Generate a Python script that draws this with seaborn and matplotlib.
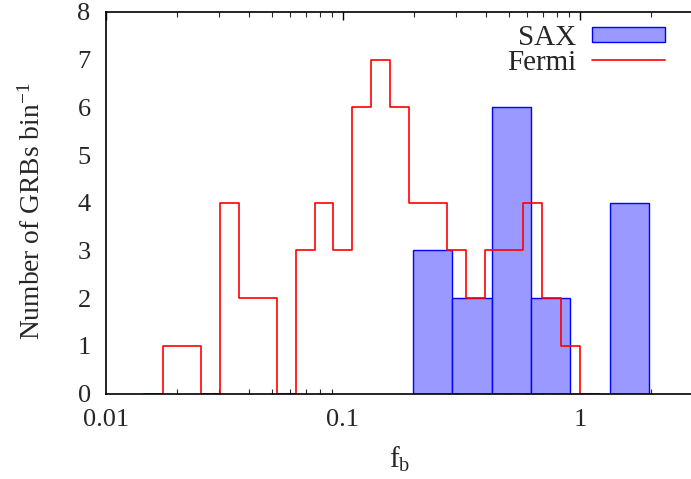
import numpy as np
import pandas as pd
import seaborn as sns
import matplotlib
matplotlib.use("Agg")
import matplotlib.pyplot as plt
from matplotlib.ticker import LogLocator, NullFormatter, FixedLocator, FixedFormatter

# ---- data ----
# Fermi: log10 bin edges, step 0.08 dex, from -1.84 to 0.08 (zero bins padded at ends)
fermi_log_edges = [-1.84, -1.76, -1.68, -1.60, -1.52, -1.44, -1.36, -1.28, -1.20, -1.12,
                   -1.04, -0.96, -0.88, -0.80, -0.72, -0.64, -0.56, -0.48, -0.40, -0.32,
                   -0.24, -0.16, -0.08, 0.00, 0.08]
fermi_counts = [0, 1, 1, 0, 4, 2, 2, 0, 3, 4, 3, 6, 7, 6, 4, 4, 3, 2, 3, 3, 4, 2, 1, 0]

# SAX: log10 bin edges, step ~0.166 dex
sax_log_edges = [-0.705, -0.539, -0.373, -0.207, -0.041, 0.125, 0.291]
sax_counts = [3, 2, 6, 2, 0, 4]

x_ticks = [0.01, 0.1, 1]
x_ticklabels = ["0.01", "0.1", "1"]
y_ticks = [0, 1, 2, 3, 4, 5, 6, 7, 8]

# ---- build tables ----
fe = np.array(fermi_log_edges)
fermi_df = pd.DataFrame({"fb": 10 ** ((fe[:-1] + fe[1:]) / 2), "n": fermi_counts})
se = np.array(sax_log_edges)
sax_df = pd.DataFrame({"fb": 10 ** ((se[:-1] + se[1:]) / 2), "n": sax_counts})

sns.set_style("white")
plt.rcParams["font.family"] = ["Liberation Serif", "DejaVu Serif"]
plt.rcParams["mathtext.fontset"] = "custom"
plt.rcParams["mathtext.rm"] = "Liberation Serif"
plt.rcParams["mathtext.it"] = "Liberation Serif"

fig = plt.figure(figsize=(6.91, 4.79), dpi=100)
L, R, T, B = 106, 693, 12, 393.5
ax = fig.add_axes([L / 691, (479 - B) / 479, (R - L) / 691, (B - T) / 479])

sns.histplot(data=sax_df, x="fb", weights="n", bins=sax_log_edges, log_scale=True,
             element="bars", fill=True, color="#9999ff", edgecolor="#0000ff",
             linewidth=1.0, alpha=1.0, ax=ax, label="SAX")
sns.histplot(data=fermi_df, x="fb", weights="n", bins=fermi_log_edges, log_scale=True,
             element="step", fill=False, color="#ff0000", linewidth=1.2,
             ax=ax, label="Fermi")

ax.set_xlim(0.01, 3)
ax.set_ylim(0, 8)
ax.xaxis.set_major_locator(FixedLocator(x_ticks))
ax.xaxis.set_major_formatter(FixedFormatter(x_ticklabels))
ax.xaxis.set_minor_locator(LogLocator(base=10, subs=np.arange(2, 10)))
ax.xaxis.set_minor_formatter(NullFormatter())
ax.set_yticks(y_ticks)
ax.set_yticklabels([str(v) for v in y_ticks])

ax.tick_params(axis="both", which="major", direction="in", length=6, width=1,
               labelsize=19, top=True, right=False, color="black")
ax.tick_params(axis="x", which="major", pad=11)
ax.tick_params(axis="y", which="major", pad=11)
ax.tick_params(axis="x", which="minor", direction="in", length=3.5, width=0.8,
               top=True, bottom=True)
for s in ax.spines.values():
    s.set_color("black")
    s.set_linewidth(1.2)
    s.set_zorder(5)

ax.set_xlabel(r"f$_\mathrm{b}$", fontsize=21, labelpad=10)
ax.set_ylabel(r"Number of GRBs bin$^\mathrm{-1}$", fontsize=19.8)
ax.yaxis.set_label_coords(-0.103, 0.478)

handles, labels = ax.get_legend_handles_labels()
order = [labels.index("SAX"), labels.index("Fermi")]
leg = ax.legend([handles[i] for i in order], [labels[i] for i in order],
                loc="upper right",
                bbox_to_anchor=((665 - L) / (R - L), (B - 25) / (B - T)),
                frameon=False, markerfirst=False, fontsize=21, handlelength=2.5,
                handleheight=0.45, handletextpad=0.55, labelspacing=-0.05,
                borderaxespad=0.0, borderpad=0.0)
try:
    for col in leg._legend_handle_box.get_children():
        col.align = "right"
except Exception:
    pass

fig.savefig("out.png", dpi=100)
